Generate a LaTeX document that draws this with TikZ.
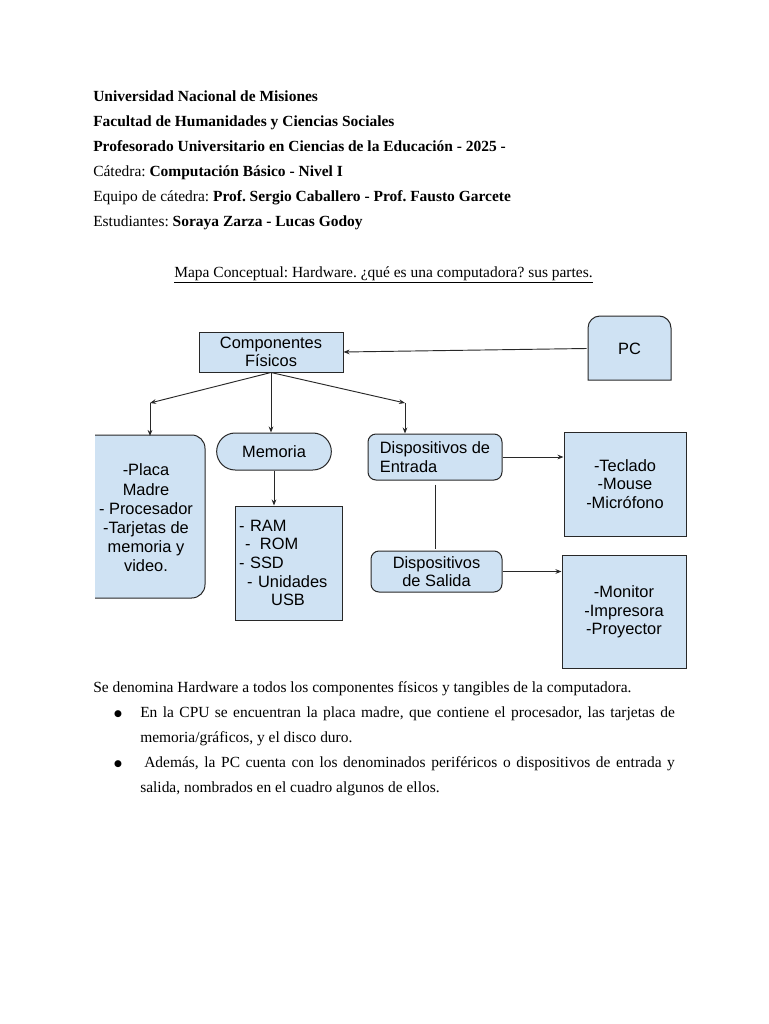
\documentclass[tikz,border=0pt]{standalone}
\usepackage{fontspec}
\setmainfont{Liberation Serif}
\newfontfamily\arialfont{Liberation Sans}
\newfontfamily\dejavu{DejaVu Sans}
\usetikzlibrary{positioning, calc, shapes.misc, arrows.meta, backgrounds}
\definecolor{boxblue}{RGB}{207,226,243}
\definecolor{edge}{RGB}{40,40,40}
\frenchspacing

\begin{document}
\begin{tikzpicture} [x=0.75pt, y=-0.75pt,
    txt/.style={anchor=base west, inner sep=0pt, font=\fontsize{11.6}{14}\selectfont},
    dot/.style={anchor=base, inner sep=0pt, font=\dejavu\fontsize{6.8}{10}\selectfont},
    box/.style={draw=edge, fill=boxblue, line width=0.75pt, align=center, inner sep=2pt, font=\arialfont\fontsize{12.3}{14}\selectfont},
    arrow/.style={-{Stealth[length=4.5pt, width=3.5pt]}, draw=edge, line width=0.7pt},
    link/.style={draw=edge, line width=0.7pt}]
        % Page
        \begin{scope}[on background layer]
            \fill[white] (0,0) rectangle (768,1024);
        \end{scope}
        \useasboundingbox (0,0) rectangle (768,1024);

        % Header
        \node[txt] (uni) at (93,101) {\textbf{Universidad Nacional de Misiones}};
        \node[txt] (fac) at (93,126) {\textbf{Facultad de Humanidades y Ciencias Sociales}};
        \node[txt] (prof) at (93,151) {\textbf{Profesorado Universitario en Ciencias de la Educación - 2025 -}};
        \node[txt] (cat) at (93,176) {Cátedra: \textbf{Computación Básico - Nivel I}};
        \node[txt] (equipo) at (93,201) {Equipo de cátedra: \textbf{Prof. Sergio Caballero - Prof. Fausto Garcete}};
        \node[txt] (est) at (93,226) {Estudiantes: \textbf{Soraya Zarza - Lucas Godoy}};
        \node[txt, anchor=base] (title) at (383.5,277) {\underline{Mapa Conceptual: Hardware. ¿qué es una computadora? sus partes.}};

        % Nodes
        \node[box, minimum width=108pt, minimum height=30pt] (comp) at (271,352) {Componentes\\Físicos};
        \node[box, draw=none, fill=none, minimum width=63.75pt, minimum height=48pt] (pc) at (629.5,348.5) {PC};
        \node[box, draw=none, fill=none, minimum width=75pt, minimum height=122.25pt, font=\arialfont\fontsize{12.3}{14.4}\selectfont] (placa) at (146,518) {-Placa\\Madre\\- Procesador\\-Tarjetas de\\memoria y\\video.};
        \node[box, rounded rectangle, minimum width=90pt, minimum height=27.75pt] (mem) at (274,451.5) {Memoria};
        \node[box, align=left, text width=74pt, inner sep=0pt, minimum width=80.25pt, minimum height=85.5pt] (ram) at (288.5,563) {- RAM\\\hspace*{4.5pt}-\hspace{7pt}ROM\\- SSD\\\hspace*{6pt}- Unidades\\\hspace*{24pt}USB};
        \node[box, rounded corners=6pt, align=left, minimum width=100.5pt, minimum height=34.5pt] (ent) at (435,457) {Dispositivos de\\Entrada};
        \node[box, rounded corners=6pt, minimum width=98.25pt, minimum height=30.75pt] (sal) at (436.5,571.5) {Dispositivos\\de Salida};
        \node[box, minimum width=91.5pt, minimum height=78pt] (tec) at (625,484) {-Teclado\\-Mouse\\-Micrófono};
        \node[box, minimum width=93pt, minimum height=84.75pt] (mon) at (624,612) {-Monitor\\-Impresora\\-Proyector};

        % Shapes behind the text
        \begin{scope}[on background layer]
            \filldraw[draw=edge, fill=boxblue, line width=0.75pt] (588,380) [rounded corners=9pt] -- (588,316) -- (671,316) [sharp corners] -- (671,380) -- cycle;
            \fill[boxblue] (95,435) [rounded corners=10pt] -- (205,435) -- (205,598) [sharp corners] -- (95,598) -- cycle;
            \draw[edge, line width=0.75pt] (95,435) [rounded corners=10pt] -- (205,435) -- (205,598) -- (95,598);
        \end{scope}

        % Arrows
        \coordinate (bendL) at (150,403);
        \coordinate (bendR) at (405,403);
        \draw[arrow] (pc.west) -- (comp.east);
        \draw[arrow] (comp.south) -- (bendL);
        \draw[arrow] (bendL) -- (bendL |- placa.north);
        \draw[arrow] (comp.south) -- (comp.south |- mem.north);
        \draw[arrow] (comp.south) -- (bendR);
        \draw[arrow] (bendR) -- (bendR |- ent.north);
        \draw[arrow] (mem.south) -- (mem.south |- ram.north);
        \draw[arrow] (ent.east) -- (ent.east -| tec.west);
        \draw[link, shorten <=3pt, shorten >=1pt] (ent.south) -- (ent.south |- sal.north);
        \draw[arrow] (sal.east) -- (sal.east -| mon.west);

        % Text below
        \node[txt] (intro) at (93,692) {Se denomina Hardware a todos los componentes físicos y tangibles de la computadora.};
        \node[dot] (dot1) at (118,716) {●};
        \node[txt] (item1a) at (140,717) {\makebox[401pt][s]{En la CPU se encuentran la placa madre, que contiene el procesador, las tarjetas de}};
        \node[txt] (item1b) at (140,742) {memoria/gráficos, y el disco duro.};
        \node[dot] (dot2) at (118,766) {●};
        \node[txt] (item2a) at (140,767) {\makebox[401pt][s]{\hspace*{3pt}Además, la PC cuenta con los denominados periféricos o dispositivos de entrada y}};
        \node[txt] (item2b) at (140,792) {salida, nombrados en el cuadro algunos de ellos.};
    \end{tikzpicture}
\end{document}
